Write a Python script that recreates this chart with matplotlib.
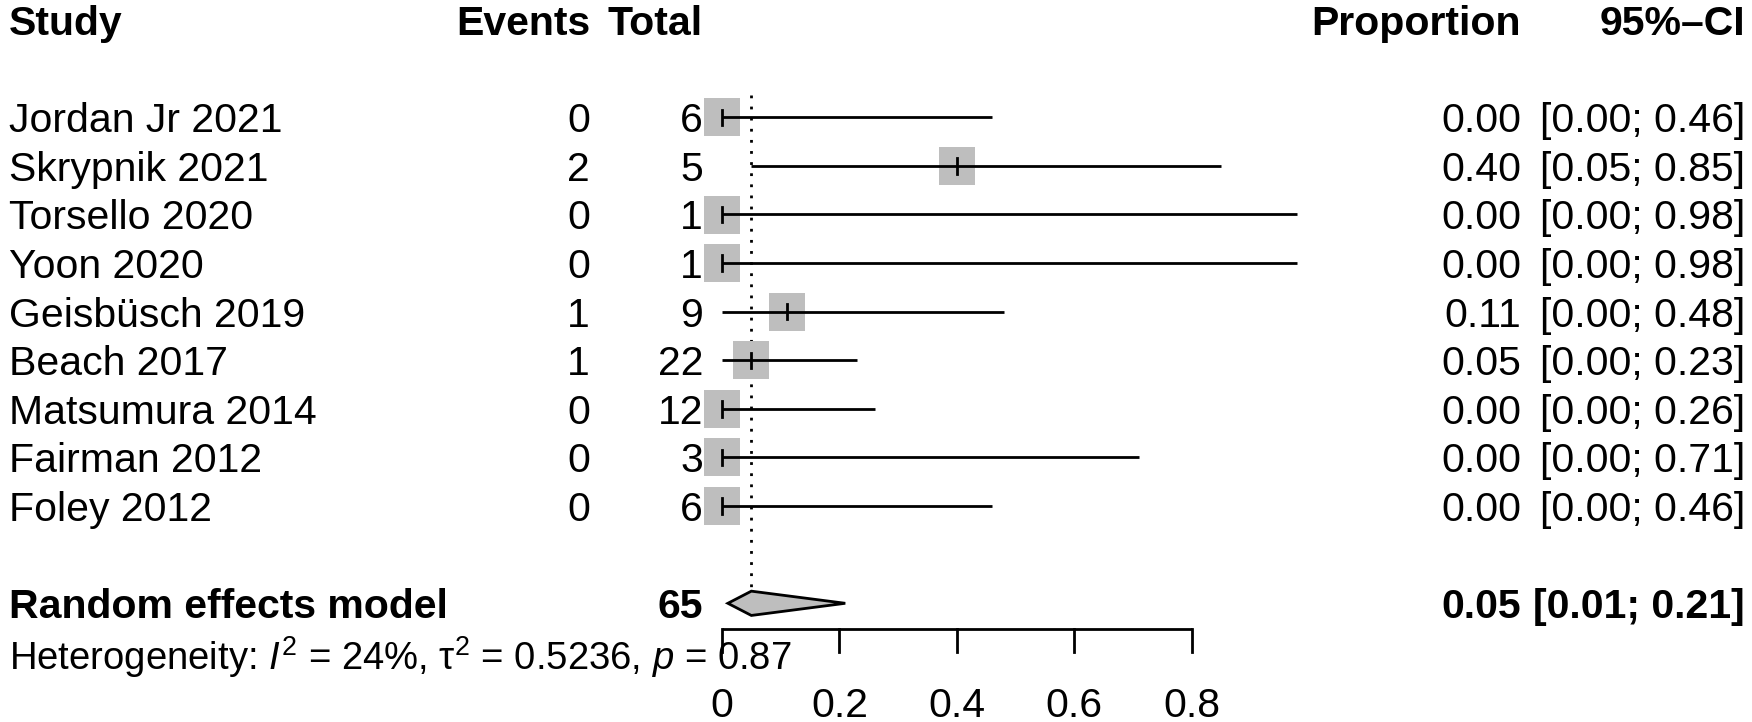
import numpy as np
import matplotlib
matplotlib.use("Agg")
import matplotlib.pyplot as plt
from matplotlib.patches import Rectangle, Polygon
from matplotlib.transforms import blended_transform_factory

plt.rcParams['font.family'] = ['Liberation Sans', 'DejaVu Sans']
plt.rcParams['mathtext.fontset'] = 'custom'
plt.rcParams['mathtext.rm'] = 'Liberation Sans'
plt.rcParams['mathtext.it'] = 'Liberation Sans:italic'
plt.rcParams['mathtext.bf'] = 'Liberation Sans:bold'

# data
studies = ["Jordan Jr 2021", "Skrypnik 2021", "Torsello 2020", "Yoon 2020",
           "Geisbüsch 2019", "Beach 2017", "Matsumura 2014", "Fairman 2012",
           "Foley 2012"]
events = [0, 2, 0, 0, 1, 1, 0, 0, 0]
totals = [6, 5, 1, 1, 9, 22, 12, 3, 6]
prop = [0.00, 0.40, 0.00, 0.00, 0.11, 0.05, 0.00, 0.00, 0.00]
ci_lo = [0.00, 0.05, 0.00, 0.00, 0.00, 0.00, 0.00, 0.00, 0.00]
ci_hi = [0.46, 0.85, 0.98, 0.98, 0.48, 0.23, 0.26, 0.71, 0.46]

re_total = 65
re_prop = 0.05
re_lo = 0.01
re_hi = 0.21
het_text = r"Heterogeneity: $\mathit{I}^2$ = 24%, τ$^2$ = 0.5236, $\mathit{p}$ = 0.87"

xticks = [0, 0.2, 0.4, 0.6, 0.8]
xticklabels = ["0", "0.2", "0.4", "0.6", "0.8"]

W, H = 1752, 722
fig = plt.figure(figsize=(W / 100, H / 100), dpi=100)
ax = fig.add_axes([0, 0, 1, 1])

# pixel layout: proportion 0 at x=722, 587 px per unit; row 0 at y=117, 48.6 px per row
x0, xs = 722, 587
y0, ys = 117.3, 48.6
ax.set_xlim(-x0 / xs, (W - x0) / xs)
ax.set_ylim((H - y0) / ys, -y0 / ys)
ax.axis("off")

tr = blended_transform_factory(fig.transFigure, ax.transData)
col_study = 9 / W
col_events = 590 / W
col_total = 703 / W
col_prop = 1521 / W
col_ci = 1745 / W

fs = 29.5
row_head = -2
row_re = 10
row_het = 11

ax.text(col_study, row_head, "Study", transform=tr, ha="left", va="center_baseline", fontsize=fs, fontweight="bold")
ax.text(col_events, row_head, "Events", transform=tr, ha="right", va="center_baseline", fontsize=fs, fontweight="bold")
ax.text(col_total, row_head, "Total", transform=tr, ha="right", va="center_baseline", fontsize=fs, fontweight="bold")
ax.text(col_prop, row_head, "Proportion", transform=tr, ha="right", va="center_baseline", fontsize=fs, fontweight="bold")
ax.text(col_ci, row_head, "95%–CI", transform=tr, ha="right", va="center_baseline", fontsize=fs, fontweight="bold")

sq_w, sq_h = 36 / xs, 38 / ys
for i, name in enumerate(studies):
    ax.text(col_study, i, name, transform=tr, ha="left", va="center_baseline", fontsize=fs)
    ax.text(col_events, i, str(events[i]), transform=tr, ha="right", va="center_baseline", fontsize=fs)
    ax.text(col_total, i, str(totals[i]), transform=tr, ha="right", va="center_baseline", fontsize=fs)
    ax.text(col_prop, i, f"{prop[i]:.2f}", transform=tr, ha="right", va="center_baseline", fontsize=fs)
    ax.text(col_ci, i, f"[{ci_lo[i]:.2f}; {ci_hi[i]:.2f}]", transform=tr, ha="right", va="center_baseline", fontsize=fs)

    ax.add_patch(Rectangle((prop[i] - sq_w / 2, i - sq_h / 2), sq_w, sq_h,
                           facecolor="#bebebe", edgecolor="none", zorder=2))
    ax.plot([ci_lo[i], ci_hi[i]], [i, i], color="black", lw=2, zorder=3, solid_capstyle="butt")
    ax.plot([prop[i], prop[i]], [i - 0.16, i + 0.16], color="black", lw=2, zorder=3)

# random effects row
ax.text(col_study, row_re, "Random effects model", transform=tr, ha="left", va="center_baseline", fontsize=fs, fontweight="bold")
ax.text(col_total, row_re, str(re_total), transform=tr, ha="right", va="center_baseline", fontsize=fs, fontweight="bold")
ax.text(col_prop, row_re, f"{re_prop:.2f}", transform=tr, ha="right", va="center_baseline", fontsize=fs, fontweight="bold")
ax.text(col_ci, row_re, f"[{re_lo:.2f}; {re_hi:.2f}]", transform=tr, ha="right", va="center_baseline", fontsize=fs, fontweight="bold")
dh = 0.25
ax.add_patch(Polygon([[re_lo, row_re], [re_prop, row_re - dh], [re_hi, row_re], [re_prop, row_re + dh]],
                     closed=True, facecolor="#bebebe", edgecolor="black", lw=2, zorder=3))

# dotted line at the pooled estimate
ax.plot([re_prop, re_prop], [-0.45, row_re - dh], color="black", lw=2, ls=(0, (1, 3)), zorder=1)

# heterogeneity
ax.text(col_study, row_het, het_text, transform=tr, ha="left", va="center_baseline", fontsize=27.5)

# x axis
ax_y = 10.53
ax.plot([xticks[0], xticks[-1]], [ax_y, ax_y], color="black", lw=2, solid_capstyle="butt")
for t, lab in zip(xticks, xticklabels):
    ax.plot([t, t], [ax_y, ax_y + 0.47], color="black", lw=2)
    ax.text(t, 12.03, lab, ha="center", va="center_baseline", fontsize=fs)

fig.savefig("out.png", dpi=100)
